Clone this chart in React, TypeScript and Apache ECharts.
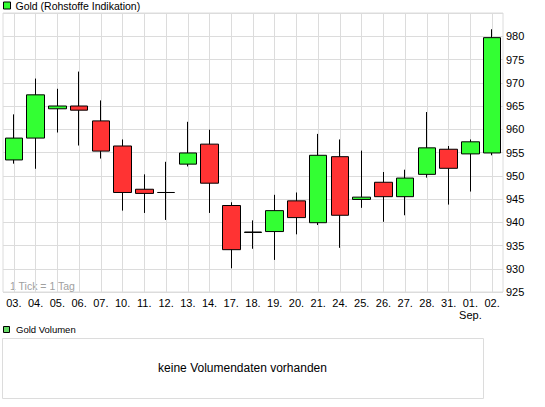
import React, { useEffect, useRef } from "react";
import * as echarts from "echarts";

// trading days (Aug / Sep)
const categories = [
  "03.", "04.", "05.", "06.", "07.", "10.", "11.", "12.", "13.", "14.", "17.", "18.",
  "19.", "20.", "21.", "24.", "25.", "26.", "27.", "28.", "31.", "01.\nSep.", "02.",
];
const opens = [
  953.4, 958.1, 964.4, 965.0, 961.8, 956.4, 947.1, 946.4, 952.5, 956.8, 943.6, 937.8,
  938.0, 944.6, 939.9, 954.1, 944.9, 948.6, 945.5, 950.3, 955.7, 954.7, 954.9,
];
const closes = [
  958.1, 967.4, 965.0, 964.1, 955.3, 946.4, 946.2, 946.4, 954.9, 948.4, 934.1, 937.9,
  942.5, 941.0, 954.4, 941.5, 945.4, 945.5, 949.5, 956.0, 951.6, 957.3, 979.7,
];
const lows = [
  952.6, 951.5, 959.3, 956.5, 953.7, 942.5, 942.0, 940.5, 952.0, 942.0, 930.1, 934.3,
  931.9, 937.4, 939.4, 934.5, 943.1, 940.1, 941.5, 949.6, 943.8, 946.6, 954.4,
];
const highs = [
  963.2, 970.9, 968.7, 972.4, 966.2, 957.8, 950.3, 953.0, 961.6, 959.9, 944.3, 940.4,
  945.9, 946.4, 959.0, 957.8, 955.4, 950.8, 951.3, 963.7, 956.4, 957.8, 981.5,
];
const yMin = 925;
const yMax = 985;
const yStep = 5;

const FONT = '"Liberation Sans", Arial, sans-serif';

export default function App() {
  const ref = useRef<HTMLDivElement | null>(null);

  useEffect(() => {
    document.body.style.margin = "0";
    if (!ref.current) return;
    const chart = echarts.init(ref.current, null, { renderer: "svg" });

    const candles = categories.map((_, i) => [opens[i], closes[i], lows[i], highs[i]]);

    const option: any = {
      animation: false,
      backgroundColor: "#fff",
      textStyle: { fontFamily: FONT },
      legend: {
        left: 3,
        top: 0,
        padding: 0,
        itemWidth: 7,
        itemHeight: 7,
        itemGap: 5,
        icon: "rect",
        data: ["Gold (Rohstoffe Indikation)"],
        itemStyle: { color: "#33ff33", borderColor: "#000", borderWidth: 1 },
        textStyle: { fontSize: 10.5, color: "#000", fontFamily: FONT },
      },
      grid: {
        left: 3,
        top: 13,
        width: 500,
        height: 279,
        show: true,
        borderColor: "#dcdcdc",
        borderWidth: 1,
        containLabel: false,
      },
      xAxis: {
        type: "category",
        data: categories,
        boundaryGap: true,
        axisLine: { show: false },
        axisTick: { show: false },
        axisLabel: {
          interval: 0,
          margin: 5,
          fontSize: 11,
          lineHeight: 12,
          color: "#000",
          fontFamily: FONT,
          verticalAlign: "top",
        },
        splitLine: {
          show: true,
          interval: 0,
          alignWithLabel: true,
          lineStyle: { color: "#dcdcdc", width: 1 },
        },
      },
      yAxis: {
        type: "value",
        position: "right",
        min: yMin,
        max: yMax,
        interval: yStep,
        axisLine: { show: false },
        axisTick: { show: false },
        axisLabel: {
          margin: 3,
          fontSize: 11,
          color: "#000",
          fontFamily: FONT,
          formatter: (v: number) => (v === yMax ? "" : String(v)),
        },
        splitLine: { show: true, lineStyle: { color: "#dcdcdc", width: 1 } },
      },
      series: [
        {
          name: "Gold (Rohstoffe Indikation)",
          type: "candlestick",
          data: candles,
          barWidth: 18,
          itemStyle: {
            color: "#33ff33",
            color0: "#ff3333",
            borderColor: "#000",
            borderColor0: "#000",
            borderColorDoji: "#000",
            borderWidth: 1,
          },
        },
      ],
      graphic: [
        {
          type: "text",
          left: 10,
          top: 280,
          style: { text: "1 Tick = 1 Tag", fill: "#a0a0a0", fontSize: 10.5, fontFamily: FONT },
        },
        {
          type: "rect",
          shape: { x: 3.5, y: 326.5, width: 6, height: 6 },
          style: { fill: "#66d966", stroke: "#000", lineWidth: 1 },
        },
        {
          type: "text",
          x: 16,
          y: 329.5,
          style: {
            text: "Gold Volumen",
            fill: "#000",
            fontSize: 9.5,
            fontFamily: FONT,
            verticalAlign: "middle",
          },
        },
        {
          type: "rect",
          shape: { x: 2.5, y: 338.5, width: 481, height: 60 },
          style: { fill: "#fff", stroke: "#dcdcdc", lineWidth: 1 },
        },
        {
          type: "text",
          x: 242.5,
          y: 367.5,
          style: {
            text: "keine Volumendaten vorhanden",
            fill: "#000",
            fontSize: 12,
            fontFamily: FONT,
            align: "center",
            verticalAlign: "middle",
          },
        },
      ],
    };

    chart.setOption(option);
    return () => {
      chart.dispose();
    };
  }, []);

  return <div ref={ref} style={{ width: 545, height: 407 }} />;
}
